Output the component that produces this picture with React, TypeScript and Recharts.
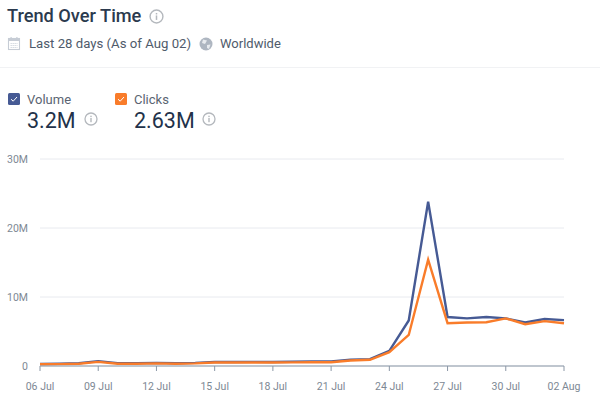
import React from "react"
import { CartesianGrid, Line, LineChart, XAxis, YAxis } from "recharts"

const dates = [
  "06 Jul", "07 Jul", "08 Jul", "09 Jul", "10 Jul", "11 Jul", "12 Jul",
  "13 Jul", "14 Jul", "15 Jul", "16 Jul", "17 Jul", "18 Jul", "19 Jul",
  "20 Jul", "21 Jul", "22 Jul", "23 Jul", "24 Jul", "25 Jul", "26 Jul",
  "27 Jul", "28 Jul", "29 Jul", "30 Jul", "31 Jul", "01 Aug", "02 Aug",
]
const volume = [
  0.3, 0.32, 0.4, 0.7, 0.42, 0.42, 0.45, 0.4, 0.45, 0.6, 0.58, 0.6, 0.58, 0.62,
  0.65, 0.65, 0.9, 1.0, 2.2, 6.6, 23.8, 7.1, 6.9, 7.1, 6.9, 6.3, 6.8, 6.65,
]
const clicks = [
  0.25, 0.27, 0.33, 0.6, 0.33, 0.33, 0.38, 0.33, 0.38, 0.5, 0.5, 0.5, 0.5, 0.52,
  0.55, 0.55, 0.8, 0.9, 2.0, 4.5, 15.4, 6.2, 6.3, 6.35, 6.9, 6.05, 6.5, 6.2,
]
const yTicks = [0, 10, 20, 30]

const chartData = dates.map((date, i) => ({ date, volume: volume[i], clicks: clicks[i] }))

const FONT = "Roboto, sans-serif"
const VOLUME_COLOR = "#465a94"
const CLICKS_COLOR = "#f97c2a"

function InfoIcon({ left, top, size }: { left: number; top: number; size: number }) {
  return (
    <svg width={size} height={size} viewBox="0 0 14 14" style={{ position: "absolute", left, top }}>
      <circle cx="7" cy="7" r="6" fill="none" stroke="#b4b8bd" strokeWidth="1.3" />
      <rect x="6.3" y="6" width="1.4" height="4.2" fill="#b4b8bd" />
      <rect x="6.3" y="3.7" width="1.4" height="1.4" fill="#b4b8bd" />
    </svg>
  )
}

function CheckBox({ left, color }: { left: number; color: string }) {
  return (
    <svg width="12" height="12" viewBox="0 0 12 12" style={{ position: "absolute", left, top: 93 }}>
      <rect width="12" height="12" rx="1.5" fill={color} />
      <path d="M3 6.2 L5.2 8.2 L9 4" fill="none" stroke="#fff" strokeWidth="1" />
    </svg>
  )
}

function Label({ left, top, size, color, children }: {
  left: number
  top: number
  size: number
  color: string
  children: React.ReactNode
}) {
  return (
    <div style={{ position: "absolute", left, top, fontSize: size, color, lineHeight: 1, whiteSpace: "nowrap" }}>
      {children}
    </div>
  )
}

export default function App() {
  return (
    <div style={{ position: "absolute", left: 0, top: 0, width: 600, height: 406, background: "#fff", fontFamily: FONT, overflow: "hidden" }}>
      <Label left={7} top={7} size={18.2} color="#2b3a4e"><span style={{ fontWeight: 500 }}>Trend Over Time</span></Label>
      <InfoIcon left={149} top={9} size={15} />

      {/* calendar icon */}
      <svg width="14" height="15" viewBox="0 0 14 15" style={{ position: "absolute", left: 7, top: 36 }}>
        <rect x="1.5" y="2.5" width="11" height="11" fill="none" stroke="#c6ccd5" strokeWidth="1.1" />
        <rect x="1.5" y="2.5" width="11" height="2.5" fill="#c6ccd5" />
        <rect x="3.5" y="1" width="1.2" height="2.5" fill="#c6ccd5" />
        <rect x="9.3" y="1" width="1.2" height="2.5" fill="#c6ccd5" />
        <path d="M3.5 7.5 H10.5 M3.5 9.5 H10.5 M3.5 11.5 H10.5" stroke="#d5dae1" strokeWidth="1" strokeDasharray="1.4 0.6" />
      </svg>
      <Label left={29} top={37} size={13.2} color="#4f5b6b">Last 28 days (As of Aug 02)</Label>
      <svg width="14" height="14" viewBox="0 0 14 14" style={{ position: "absolute", left: 199, top: 37 }}>
        <circle cx="7" cy="7" r="6.5" fill="#aeb6c1" />
        <path d="M4 2.5 L8 3.5 L6 7 L3 6 Z M8 8 L11.5 7.5 L10 12 L8 11 Z" fill="#e8ebef" />
      </svg>
      <Label left={220} top={37} size={13} color="#4f5b6b">Worldwide</Label>

      <div style={{ position: "absolute", left: 0, top: 67, width: 600, height: 1, background: "#f1f2f4" }} />

      <CheckBox left={8} color={VOLUME_COLOR} />
      <Label left={27} top={93} size={13} color="#5a6472">Volume</Label>
      <Label left={27} top={110} size={21.5} color="#22324a">3.2M</Label>
      <InfoIcon left={84} top={112} size={14} />

      <CheckBox left={115} color={CLICKS_COLOR} />
      <Label left={134} top={93} size={13} color="#5a6472">Clicks</Label>
      <Label left={134} top={110} size={21.5} color="#22324a">2.63M</Label>
      <InfoIcon left={202} top={112} size={14} />

      <div style={{ position: "absolute", left: 0, top: 0 }}>
        <LineChart width={600} height={406} data={chartData} margin={{ top: 159, right: 36, bottom: 0, left: 0 }}>
          <CartesianGrid vertical={false} stroke="#e8eaef" strokeWidth={1} />
          <XAxis
            dataKey="date"
            interval={2}
            height={40}
            stroke="#8b97a6"
            tickSize={5}
            tickMargin={12}
            tick={{ fontSize: 10.5, fill: "#7d8894", fontFamily: FONT }}
          />
          <YAxis
            domain={[0, 30]}
            ticks={yTicks}
            width={40}
            axisLine={false}
            tickLine={false}
            tickMargin={6}
            tickFormatter={(v: number) => (v === 0 ? "0" : `${v}M`)}
            tick={{ fontSize: 10.5, fill: "#7d8894", fontFamily: FONT }}
          />
          <Line dataKey="volume" type="linear" stroke={VOLUME_COLOR} strokeWidth={2.4} dot={false} isAnimationActive={false} />
          <Line dataKey="clicks" type="linear" stroke={CLICKS_COLOR} strokeWidth={2.4} dot={false} isAnimationActive={false} />
        </LineChart>
      </div>
    </div>
  )
}
